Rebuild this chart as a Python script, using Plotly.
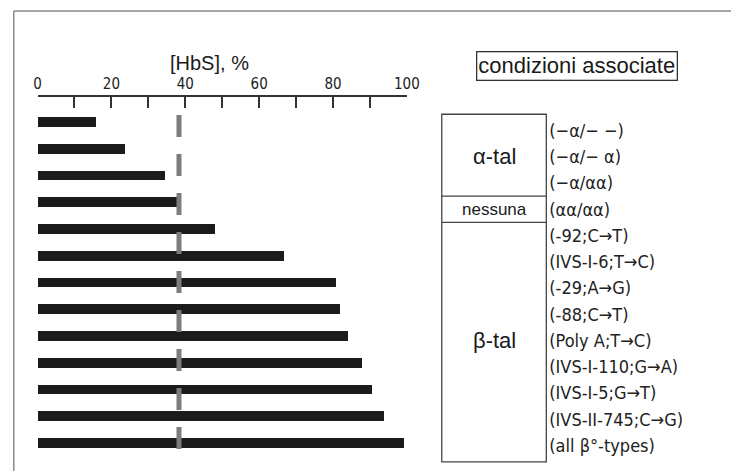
import plotly.graph_objects as go

# ---- data ----
hbs_percent = [15.8, 23.5, 34.3, 37.5, 47.8, 66.6, 80.6, 81.7, 84.0, 87.7, 90.4, 93.8, 99.1]
conditions = ["(−α/− −)", "(−α/− α)", "(−α/αα)", "(αα/αα)", "(-92;C→T)", "(IVS-I-6;T→C)",
              "(-29;A→G)", "(-88;C→T)", "(Poly A;T→C)", "(IVS-I-110;G→A)", "(IVS-I-5;G→T)",
              "(IVS-II-745;C→G)", "(all β°-types)"]
groups = ["α-tal", "nessuna", "β-tal"]
group_sizes = [3, 1, 9]
threshold = 38.3
x_ticks = [0, 10, 20, 30, 40, 50, 60, 70, 80, 90, 100]
x_ticktext = ["0", "", "20", "", "40", "", "60", "", "80", "", "100"]

NARROW = "DejaVu Sans Condensed, Liberation Sans Narrow, sans-serif"
SANS = "Liberation Sans, Arial, Helvetica, sans-serif"

n = len(hbs_percent)
idx = list(range(n))

fig = go.Figure()
fig.add_trace(go.Bar(x=hbs_percent, y=idx, orientation="h", width=0.37,
                     marker=dict(color="#1b1b1b", line=dict(width=0)),
                     xaxis="x", yaxis="y", showlegend=False, hoverinfo="skip"))
fig.add_trace(go.Scatter(x=[threshold, threshold], y=[-0.26, n - 1 + 0.34], mode="lines",
                         line=dict(color="#7c7c7c", width=5, dash="22px,17px"),
                         xaxis="x", yaxis="y", showlegend=False, hoverinfo="skip"))
# invisible trace to carry the label axis
fig.add_trace(go.Scatter(x=[0] * n, y=idx, mode="markers", marker=dict(opacity=0),
                         xaxis="x", yaxis="y2", showlegend=False, hoverinfo="skip"))

shapes = []
# outer frame (top + left)
shapes.append(dict(type="line", xref="paper", yref="paper", x0=10/744, x1=1.0, y0=1-11/471, y1=1-11/471,
                   line=dict(color="#8a8a8a", width=1.5)))
shapes.append(dict(type="line", xref="paper", yref="paper", x0=10/744, x1=10/744, y0=0, y1=1-11/471,
                   line=dict(color="#8a8a8a", width=1.5)))
# group table
bx0, bx1 = 448/744, 555/744
shapes.append(dict(type="rect", xref="paper", yref="y2", x0=bx0, x1=bx1, y0=-0.62, y1=n - 1 + 0.62,
                   line=dict(color="#444", width=1.3)))
annotations = []
start = 0
for g, s in zip(groups, group_sizes):
    end = start + s - 1
    if end < n - 1:
        shapes.append(dict(type="line", xref="paper", yref="y2", x0=bx0, x1=bx1, y0=end + 0.5, y1=end + 0.5,
                           line=dict(color="#444", width=1.3)))
    annotations.append(dict(text=g, xref="paper", yref="y2", x=(bx0 + bx1) / 2, y=(start + end) / 2,
                            showarrow=False, xanchor="center", yanchor="middle",
                            font=dict(family=SANS, size=22 if s > 1 else 17, color="#1a1a1a")))
    start += s

annotations.append(dict(text="[HbS], %", xref="paper", yref="paper", x=210/744, y=1-63/471,
                        showarrow=False, xanchor="center", yanchor="middle",
                        font=dict(family=SANS, size=20, color="#1a1a1a")))
annotations.append(dict(text="condizioni associate", xref="paper", yref="paper", x=586/744, y=1-66/471,
                        showarrow=False, xanchor="center", yanchor="middle",
                        bordercolor="#333", borderwidth=1.3, borderpad=1,
                        font=dict(family=SANS, size=22, color="#1a1a1a")))

ydom = [0, 1 - 97/471]
fig.update_layout(
    width=744, height=471, autosize=False, margin=dict(l=0, r=0, t=0, b=0),
    paper_bgcolor="white", plot_bgcolor="rgba(0,0,0,0)",
    bargap=0,
    xaxis=dict(domain=[34.3/744, 412.3/744], range=[0, 100], side="top", anchor="y",
               tickmode="array", tickvals=x_ticks, ticktext=x_ticktext,
               ticks="inside", ticklen=11, tickwidth=1.5, tickcolor="#333",
               showline=True, linecolor="#333", linewidth=1.5,
               showgrid=False, zeroline=False,
               tickfont=dict(family=NARROW, size=15, color="#222")),
    yaxis=dict(domain=ydom, range=[(471-122)/26.75, (97-122)/26.75], visible=False,
               showgrid=False, zeroline=False),
    yaxis2=dict(domain=ydom, range=[(471-130.5)/26.25, (97-130.5)/26.25], overlaying="y",
                anchor="free", position=557/744, side="right",
                tickmode="array", tickvals=idx, ticktext=conditions, ticks="",
                showline=False, showgrid=False, zeroline=False,
                tickfont=dict(family=NARROW, size=18, color="#222")),
    shapes=shapes, annotations=annotations,
)
fig.write_html("out.html", config={"displayModeBar": False},
               post_script="document.body.style.margin='0px';document.body.style.overflow='hidden';")
